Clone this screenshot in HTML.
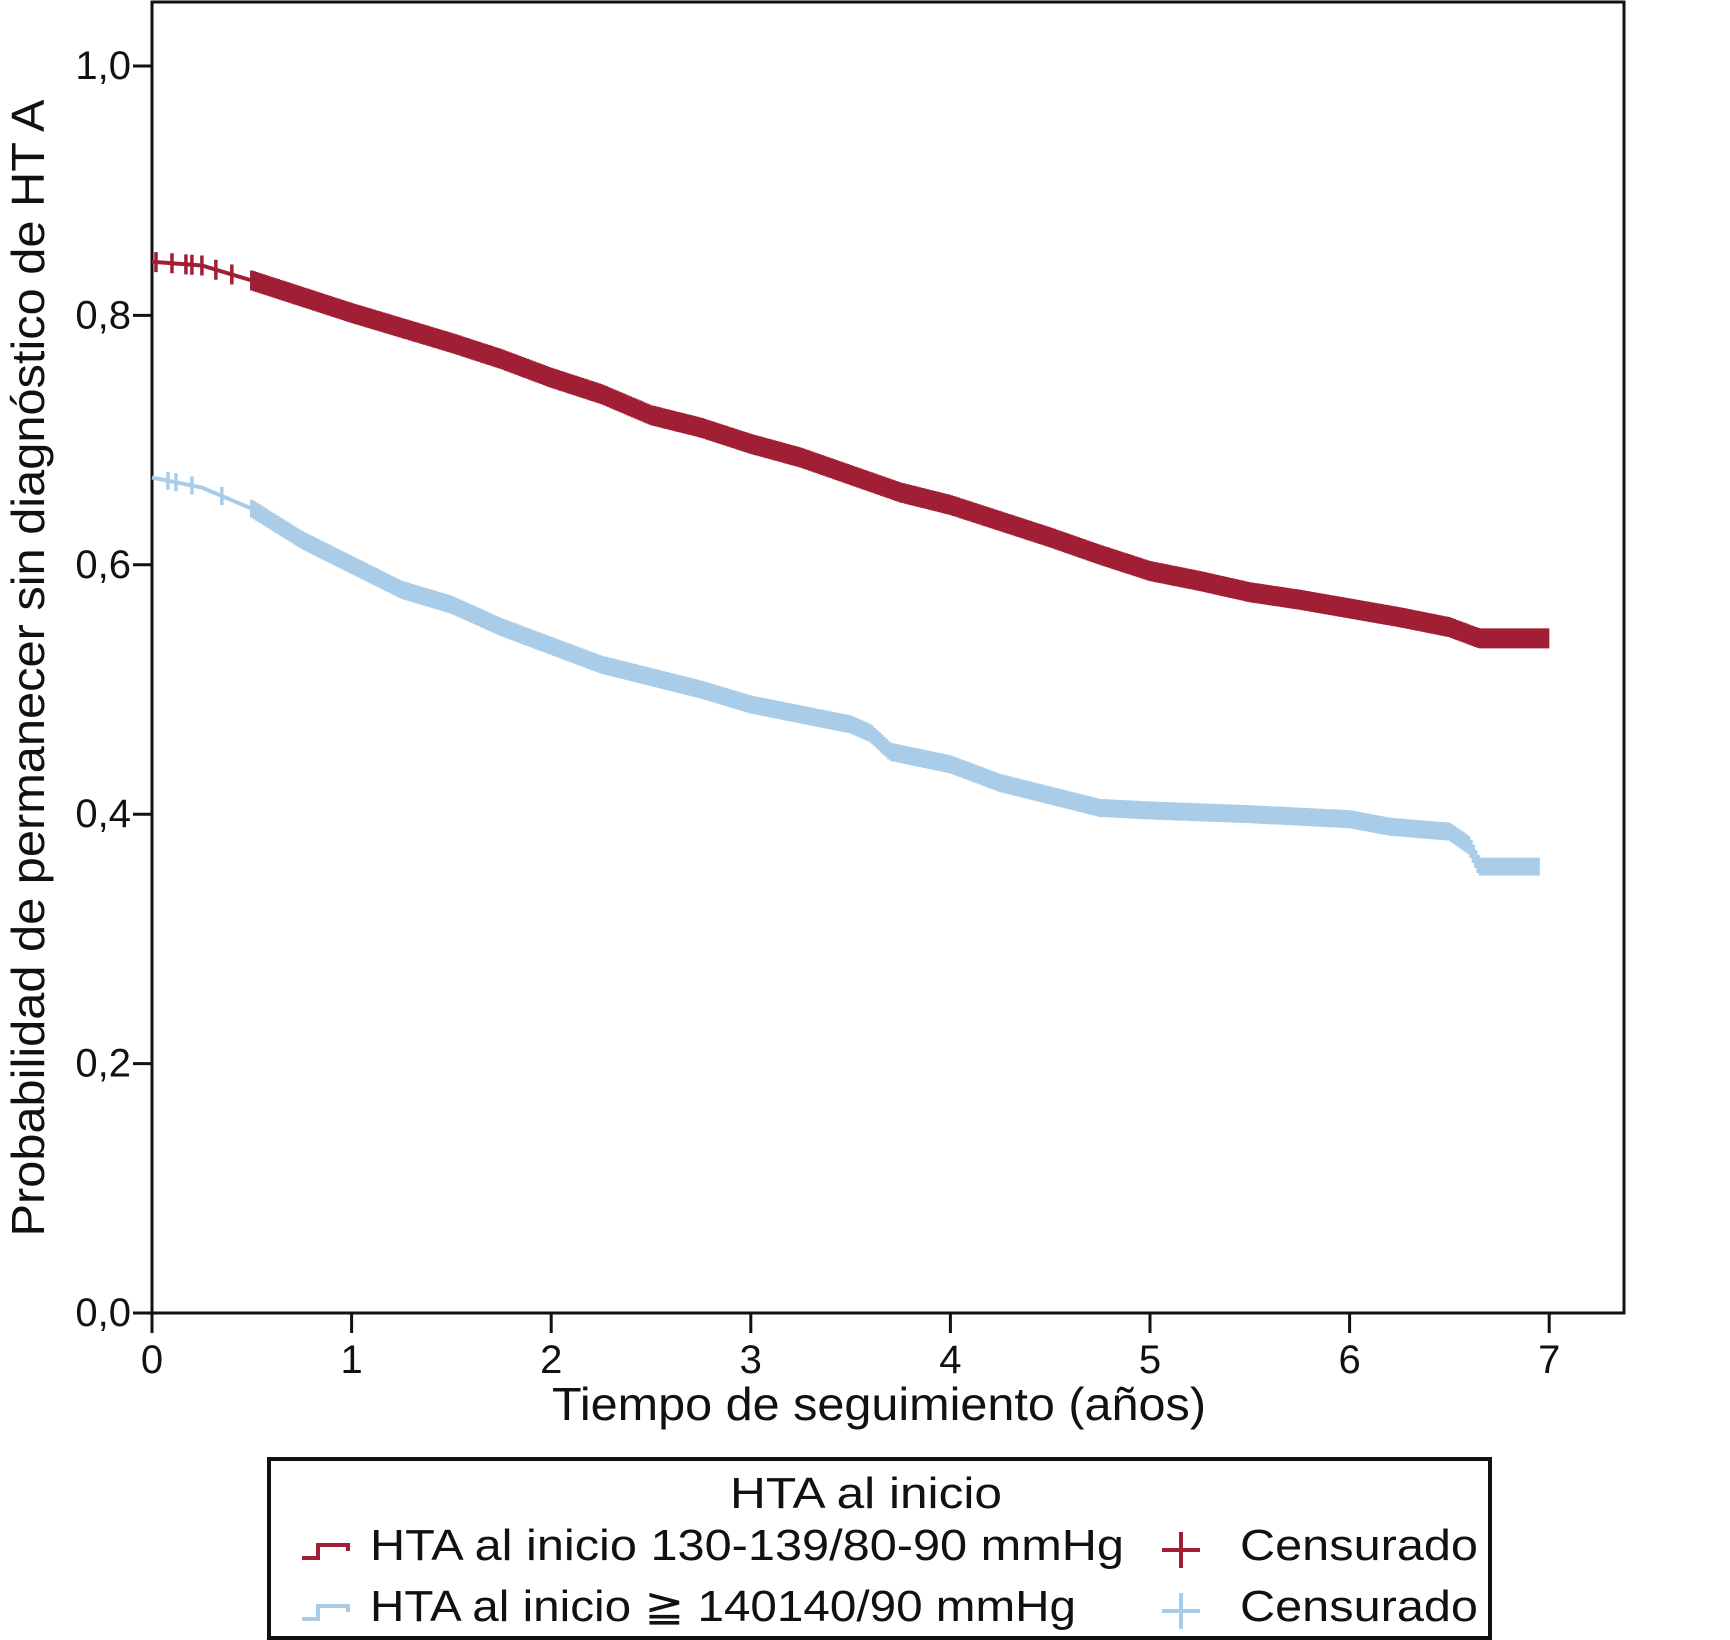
<!DOCTYPE html>
<html><head><meta charset="utf-8">
<style>
html,body{margin:0;padding:0;background:#fff;}
svg{display:block;}
text{font-family:"Liberation Sans",sans-serif;fill:#111;}
</style></head>
<body>
<svg id="chart" width="1730" height="1640" viewBox="0 0 1730 1640">
  <rect x="152" y="2" width="1472" height="1311" fill="none" stroke="#111" stroke-width="3"/>
  <g id="axes"></g>
  <g id="series"></g>
  <text x="552" y="1420" font-size="46" textLength="654" lengthAdjust="spacingAndGlyphs">Tiempo de seguimiento (años)</text>
  <text transform="translate(44,668) rotate(-90)" font-size="46" text-anchor="middle" textLength="1137" lengthAdjust="spacingAndGlyphs">Probabilidad de permanecer sin diagnóstico de HT A</text>
  <g>
    <rect x="269" y="1459" width="1221" height="179" fill="#fff" stroke="#111" stroke-width="4"/>
    <text x="730" y="1508" font-size="44" textLength="272" lengthAdjust="spacingAndGlyphs">HTA al inicio</text>
    <path d="M302 1558 H318 V1545 H348 V1551" fill="none" stroke="#a11f35" stroke-width="4"/>
    <text x="370" y="1560" font-size="44" textLength="754" lengthAdjust="spacingAndGlyphs">HTA al inicio 130-139/80-90 mmHg</text>
    <path d="M1162 1550 H1200 M1181 1532 V1568" stroke="#a11f35" stroke-width="4"/>
    <text x="1240" y="1560" font-size="44" textLength="238" lengthAdjust="spacingAndGlyphs">Censurado</text>
    <path d="M302 1619 H318 V1606 H348 V1612" fill="none" stroke="#a9cde9" stroke-width="4"/>
    <text x="370" y="1621" font-size="44" textLength="706" lengthAdjust="spacingAndGlyphs">HTA al inicio ≧ 140140/90 mmHg</text>
    <path d="M1162 1611 H1200 M1181 1593 V1629" stroke="#a9cde9" stroke-width="4"/>
    <text x="1240" y="1621" font-size="44" textLength="238" lengthAdjust="spacingAndGlyphs">Censurado</text>
  </g>
</svg>
<script>
const xTicks = [0,1,2,3,4,5,6,7];
const yTicks = [0,0.2,0.4,0.6,0.8,1.0];
const yTickLabels = ["0,0","0,2","0,4","0,6","0,8","1,0"];
const redTimes = [0,0.25,0.5,0.75,1,1.25,1.5,1.75,2,2.25,2.5,2.75,3,3.25,3.5,3.75,4,4.25,4.5,4.75,5,5.25,5.5,5.75,6,6.25,6.5,6.65,7];
const redSurv  = [.843,.84,.828,.815,.802,.79,.778,.765,.75,.737,.72,.71,.697,.686,.672,.658,.648,.635,.622,.608,.595,.587,.578,.572,.565,.558,.55,.541,.541];
const blueTimes = [0,0.25,0.5,0.75,1,1.25,1.5,1.75,2,2.25,2.5,2.75,3,3.25,3.5,3.6,3.7,4,4.25,4.5,4.75,5,5.5,6,6.2,6.5,6.6,6.65,6.95];
const blueSurv  = [.67,.662,.645,.62,.6,.58,.568,.55,.535,.52,.51,.5,.488,.48,.472,.465,.45,.44,.425,.415,.405,.403,.4,.396,.39,.386,.375,.358,.358];
const redSparseCensor = [0.02,0.1,0.17,0.2,0.25,0.32,0.4];
const blueSparseCensor = [0.08,0.12,0.2,0.35];

const X = t => 152 + t*199.6;
const Y = p => 1313 - p*1247;
const NS = "http://www.w3.org/2000/svg";
const axes = document.getElementById('axes');
const series = document.getElementById('series');
function mk(tag, attrs, parent){const e=document.createElementNS(NS,tag);for(const k in attrs)e.setAttribute(k,attrs[k]);parent.appendChild(e);return e;}

xTicks.forEach(t=>{
  const l=mk('line',{x1:X(t),x2:X(t),y1:1313,y2:1333,stroke:'#111','stroke-width':3},axes);
  
  
  const tx=mk('text',{x:X(t),y:1373,'font-size':40,'text-anchor':'middle'},axes);
  tx.textContent=t;
  
  
});
yTicks.forEach((p,i)=>{
  const l=mk('line',{x1:133,x2:152,y1:Y(p),y2:Y(p),stroke:'#111','stroke-width':3},axes);
  
  
  const tx=mk('text',{x:131,y:Y(p)+13,'font-size':40,'text-anchor':'end'},axes);
  tx.textContent=yTickLabels[i];
  
  
});

function valAt(times,surv,t){
  for(let i=1;i<times.length;i++){
    if(t<=times[i]){const f=(t-times[i-1])/(times[i]-times[i-1]);return surv[i-1]+f*(surv[i]-surv[i-1]);}
  }
  return surv[surv.length-1];
}
function drawSeries(times,surv,color,name,sparse,denseStart,denseEnd,tickH){
  const g=mk('g',{},series);
  
  
  let d='M'+X(times[0])+' '+Y(surv[0]);
  for(let i=1;i<times.length;i++){d+=' L'+X(times[i])+' '+Y(surv[i]);}
  const p=mk('path',{d:d,fill:'none',stroke:color,'stroke-width':4},g);
  
  
  let cd='';
  const ct=sparse.slice();
  for(let t=denseStart;t<=denseEnd;t+=0.012)ct.push(t);
  ct.forEach(t=>{const y=Y(valAt(times,surv,t));cd+='M'+X(t)+' '+(y-tickH)+' V'+(y+tickH)+' ';});
  const c=mk('path',{d:cd,fill:'none',stroke:color,'stroke-width':3.5},g);
  
  
}
drawSeries(redTimes,redSurv,'#a11f35','series-130-139',redSparseCensor,0.5,7.0,10);
drawSeries(blueTimes,blueSurv,'#a9cde9','series-140-plus',blueSparseCensor,0.5,6.95,9);
</script>
</body></html>
